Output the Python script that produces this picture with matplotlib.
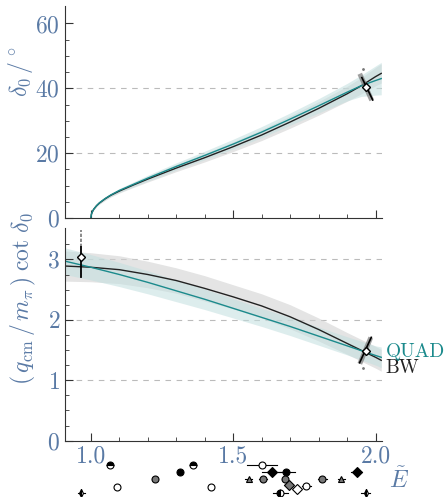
import matplotlib
matplotlib.use("Agg")
import matplotlib.pyplot as plt
import numpy as np

plt.rcParams["font.family"] = "serif"
plt.rcParams["font.serif"] = ["cmr10", "DejaVu Serif"]
plt.rcParams["mathtext.fontset"] = "cm"
plt.rcParams["axes.formatter.use_mathtext"] = True

# colours
blue = "#5a7aa5"
teal = "#1b8a8c"
grey = "#777777"

# top panel: phase shift in degrees
E_top = [1.0, 1.002, 1.005, 1.01, 1.02, 1.03, 1.05, 1.07, 1.1, 1.15, 1.2, 1.3,
         1.4, 1.5, 1.6, 1.7, 1.8, 1.9, 1.95, 2.0, 2.02]
bw_top = [0, 1.2, 1.9, 2.7, 3.8, 4.6, 5.9, 7.0, 8.3, 10.2, 12.0, 15.4,
          18.6, 22.0, 25.6, 29.6, 33.8, 38.3, 40.8, 43.6, 44.6]
quad_top = [0, 1.2, 1.9, 2.7, 3.8, 4.7, 6.0, 7.1, 8.5, 10.4, 12.3, 15.9,
            19.3, 22.8, 26.5, 30.5, 34.6, 38.8, 40.8, 42.4, 43.0]
quad_top_err = [0, 0.1, 0.15, 0.2, 0.3, 0.35, 0.45, 0.5, 0.6, 0.75, 0.9, 1.1,
                1.3, 1.5, 1.7, 1.9, 2.2, 2.7, 3.3, 4.5, 5.0]
bw_top_err = [0, 0.1, 0.15, 0.2, 0.3, 0.35, 0.45, 0.5, 0.6, 0.75, 0.9, 1.1,
              1.3, 1.5, 1.7, 1.9, 2.1, 2.3, 2.5, 2.8, 3.0]

# bottom panel: q cot delta
E_bot = [0.91, 1.0, 1.1, 1.2, 1.3, 1.4, 1.5, 1.6, 1.7, 1.8, 1.9, 2.0, 2.02]
bw_bot = [2.89, 2.87, 2.83, 2.75, 2.65, 2.52, 2.38, 2.23, 2.05, 1.84, 1.61, 1.38, 1.33]
quad_bot = [2.97, 2.87, 2.75, 2.62, 2.48, 2.34, 2.19, 2.04, 1.89, 1.73, 1.57, 1.41, 1.38]
quad_bot_err = [0.22, 0.21, 0.2, 0.19, 0.18, 0.17, 0.16, 0.15, 0.15, 0.15, 0.15, 0.16, 0.17]
bw_bot_err = [0.25, 0.24, 0.23, 0.22, 0.21, 0.21, 0.2, 0.2, 0.2, 0.19, 0.18, 0.18, 0.18]

# lattice points
pt_top = (1.965, 40.5)
pt_top_err_grey = [(1.948, 43.8), (1.983, 37.0)]
pt_top_err_black = [(1.952, 43.3), (1.99, 36.4)]
pt_top_dot = (1.955, 45.9)
pt_bot = (1.965, 1.49)
pt_bot_err_grey = [(1.948, 1.31), (1.980, 1.67)]
pt_bot_err_black = [(1.944, 1.29), (1.985, 1.71)]
pt_bot_dot = (1.956, 1.21)
pt_left = (0.967, 3.04)
pt_left_err = (2.71, 3.20)
pt_left_err_grey = (3.20, 3.48)

# strip of energy levels below the axis: E, y, marker, face, fill, xerr
levels = [
    (1.067, -0.41, "o", "k", "top", 0.012),
    (1.359, -0.41, "o", "k", "top", 0.012),
    (1.601, -0.41, "o", "white", "full", 0.053),
    (1.312, -0.52, "o", "k", "full", 0.01),
    (1.636, -0.52, "D", "k", "full", 0.035),
    (1.687, -0.52, "o", "k", "full", 0.03),
    (1.934, -0.52, "D", "k", "full", 0.02),
    (1.225, -0.63, "o", grey, "full", 0.012),
    (1.555, -0.63, "^", grey, "full", 0.012),
    (1.605, -0.63, "o", grey, "full", 0.015),
    (1.682, -0.63, "o", grey, "full", 0.012),
    (1.813, -0.63, "o", grey, "full", 0.015),
    (1.880, -0.63, "^", grey, "full", 0.012),
    (1.695, -0.73, "D", grey, "full", 0.015),
    (1.725, -0.80, "D", "white", "full", 0.012),
    (1.757, -0.75, "o", "white", "full", 0.015),
    (1.092, -0.77, "o", "white", "full", 0.0),
    (1.421, -0.77, "o", "white", "full", 0.0),
    (0.967, -0.87, "d", "k", "left", 0.012),
    (1.666, -0.87, "o", "k", "left", 0.025),
    (1.965, -0.87, "d", "k", "left", 0.015),
]

fig = plt.figure(figsize=(4.45, 4.97), dpi=100)
ax1 = fig.add_axes([0.146, 0.5614, 0.712, 0.4266])
ax2 = fig.add_axes([0.146, 0.1133, 0.712, 0.428])

for ax in (ax1, ax2):
    ax.spines["top"].set_visible(False)
    ax.spines["right"].set_visible(False)
    for s in ("left", "bottom"):
        ax.spines[s].set_color("#333333")
    ax.set_xlim(0.909, 2.022)
    ax.set_xticks([1.0, 1.5, 2.0])
    ax.set_xticks(np.arange(1.0, 2.01, 0.1), minor=True)
    ax.tick_params(which="both", direction="in", colors="#333333",
                   labelcolor=blue, labelsize=17)
    ax.tick_params(which="major", length=5.5)
    ax.tick_params(which="minor", length=3)

# top panel
E_t = np.array(E_top)
ax1.fill_between(E_t, np.array(bw_top) - bw_top_err, np.array(bw_top) + bw_top_err,
                 color="#d2d2d2", alpha=0.6, lw=0)
ax1.fill_between(E_t, np.array(quad_top) - quad_top_err, np.array(quad_top) + quad_top_err,
                 color="#c2dfdf", alpha=0.55, lw=0)
ax1.plot(E_top, bw_top, color="#222222", lw=1.0)
ax1.plot(E_top, quad_top, color=teal, lw=1.0)
for yv in (20, 40):
    ax1.axhline(yv, color="#bbbbbb", lw=0.8, ls=(0, (5, 5)), zorder=0)
ax1.plot(*zip(*pt_top_err_grey), color=grey, lw=3.5, alpha=0.7)
ax1.plot(*zip(*pt_top_err_black), color="k", lw=1.2)
ax1.plot(*pt_top, marker="D", ms=4, mfc="white", mec="k", mew=1.0)
ax1.plot(*pt_top_dot, marker=".", ms=2, color=grey)
ax1.set_ylim(0, 65.4)
ax1.set_yticks([0, 20, 40, 60])
ax1.set_yticks(np.arange(0, 65, 5), minor=True)
ax1.set_xticklabels([])
ax1.set_ylabel(r"$\delta_0\,/^\circ$", color=blue, fontsize=17)
ax1.yaxis.set_label_coords(-0.095, 0.69)

# bottom panel
E_b = np.array(E_bot)
ax2.fill_between(E_b, np.array(bw_bot) - bw_bot_err, np.array(bw_bot) + bw_bot_err,
                 color="#d2d2d2", alpha=0.6, lw=0)
ax2.fill_between(E_b, np.array(quad_bot) - quad_bot_err, np.array(quad_bot) + quad_bot_err,
                 color="#c2dfdf", alpha=0.55, lw=0)
ax2.plot(E_bot, bw_bot, color="#222222", lw=1.0)
ax2.plot(E_bot, quad_bot, color=teal, lw=1.0)
for yv in (1, 2, 3):
    ax2.axhline(yv, color="#bbbbbb", lw=0.8, ls=(0, (5, 5)), zorder=0)
ax2.plot(*zip(*pt_bot_err_grey), color=grey, lw=3.5, alpha=0.7)
ax2.plot(*zip(*pt_bot_err_black), color="k", lw=1.2)
ax2.plot(*pt_bot, marker="D", ms=4, mfc="white", mec="k", mew=1.0)
ax2.plot(*pt_bot_dot, marker=".", ms=2, color=grey)
ax2.plot([pt_left[0]] * 2, pt_left_err_grey, color=grey, lw=1.2, ls=(0, (2, 1)))
ax2.plot([pt_left[0]] * 2, pt_left_err, color="k", lw=1.3)
ax2.plot(*pt_left, marker="D", ms=4, mfc="white", mec="k", mew=1.0)
ax2.set_ylim(0, 3.52)
ax2.set_yticks([0, 1, 2, 3])
ax2.set_yticks(np.arange(0, 3.5, 0.25), minor=True)
ax2.set_xticklabels(["1.0", "1.5", "2.0"])
ax2.set_ylabel(r"$(\,q_{\rm cm}\,/\,m_\pi\,)\;\cot\,\delta_0$", color=blue, fontsize=17)
ax2.yaxis.set_label_coords(-0.085, 0.67)

ax2.text(2.035, 1.47, "QUAD", color=teal, fontsize=14, va="center", clip_on=False)
ax2.text(2.035, 1.20, "BW", color="#222222", fontsize=14, va="center", clip_on=False)
ax2.text(2.048, -0.65, r"$\tilde{E}$", color=blue, fontsize=17, va="center",
         clip_on=False)

# level strip
for e, yv, m, fc, fs, xe in levels:
    if xe > 0:
        ax2.plot([e - xe, e + xe], [yv, yv], color="k", lw=0.8, clip_on=False)
    ms = 4 if m == "d" else 5
    ax2.plot(e, yv, marker=m, ms=ms, mfc=fc, mfcalt="white", fillstyle=fs,
             mec="k", mew=0.8, color="k", clip_on=False)

fig.savefig("out.png", dpi=100)
